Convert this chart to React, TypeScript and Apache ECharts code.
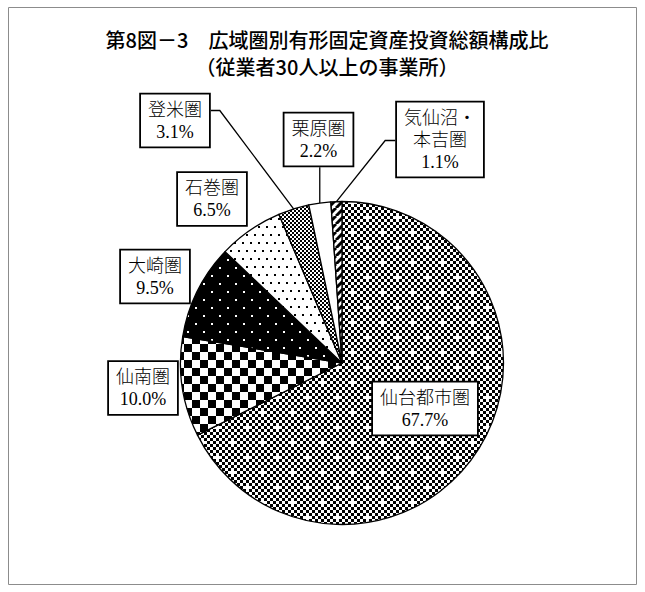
import React, { useEffect, useRef } from "react";
import * as echarts from "echarts";

// ---- data ----
const CATEGORIES = ["仙台都市圏", "仙南圏", "大崎圏", "石巻圏", "登米圏", "栗原圏", "気仙沼・本吉圏"];
const SHARES = [67.7, 10.0, 9.5, 6.5, 3.1, 2.2, 1.1];
const TITLE_LINES = ["第8図－3　広域圏別有形固定資産投資総額構成比", "（従業者30人以上の事業所）"];

// ---- layout / style (not data) ----
const PIE_CENTER = [342, 363];
const PIE_RADIUS = 161.5;
const TITLE_TOPS = [28, 55];
const LABEL_CENTERS = [
  [425, 408.5],
  [143, 388],
  [155, 276.5],
  [212, 199],
  [175, 120.5],
  [318.5, 139.5],
  [440, 139.5],
];
const LEADER = ["none", "none", "none", "none", "right", "bottom", "left"];
const PATTERNS = ["crossChecker", "bigChecker", "whiteDots", "blackDots", "fineChecker", "blank", "stripes"];

function makeTile(kind: string): HTMLCanvasElement {
  const c = document.createElement("canvas");
  let w = 8,
    h = 8;
  if (kind === "crossChecker") { w = 30; h = 30; }
  if (kind === "bigChecker") { w = 16; h = 16; }
  if (kind === "whiteDots") { w = 16; h = 16; }
  if (kind === "blackDots") { w = 16; h = 16; }
  if (kind === "fineChecker") { w = 4; h = 4; }
  c.width = w;
  c.height = h;
  const ctx = c.getContext("2d")!;
  ctx.fillStyle = "#fff";
  ctx.fillRect(0, 0, w, h);
  ctx.fillStyle = "#000";
  if (kind === "crossChecker") {
    const cell = 3;
    for (let i = 0; i < 10; i++)
      for (let j = 0; j < 10; j++) {
        if ((i + j) % 2 !== 0) continue;
        if ((i === 2 && j === 2) || (i === 7 && j === 7)) continue;
        ctx.fillRect(i * cell, j * cell, cell, cell);
      }
  } else if (kind === "bigChecker") {
    ctx.fillRect(0, 0, 8, 8);
    ctx.fillRect(8, 8, 8, 8);
  } else if (kind === "whiteDots") {
    ctx.fillRect(0, 0, w, h);
    ctx.fillStyle = "#fff";
    ctx.fillRect(3, 3, 2, 2);
    ctx.fillRect(11, 11, 2, 2);
  } else if (kind === "blackDots") {
    ctx.fillRect(2, 2, 2, 2);
    ctx.fillRect(10, 2, 2, 2);
    ctx.fillRect(6, 10, 2, 2);
    ctx.fillRect(14, 10, 2, 2);
  } else if (kind === "fineChecker") {
    ctx.fillRect(0, 0, 2, 2);
    ctx.fillRect(2, 2, 2, 2);
  } else if (kind === "stripes") {
    ctx.strokeStyle = "#000";
    ctx.lineWidth = 3;
    for (let k = -1; k <= 1; k++) {
      ctx.beginPath();
      ctx.moveTo(k * w, h);
      ctx.lineTo(k * w + w, 0);
      ctx.stroke();
    }
  }
  return c;
}

export default function App() {
  const ref = useRef<HTMLDivElement>(null);
  useEffect(() => {
    if (!ref.current) return;
    const chart = echarts.init(ref.current, null, { renderer: "svg" });
    const data = CATEGORIES.map((name, i) => ({
      name,
      value: SHARES[i],
      itemStyle: {
        color:
          PATTERNS[i] === "blank"
            ? "#fff"
            : ({ image: makeTile(PATTERNS[i]), repeat: "repeat" } as any),
      },
      labelLine: { show: LEADER[i] !== "none" },
    }));
    chart.setOption({
      animation: false,
      backgroundColor: "#fff",
      title: TITLE_LINES.map((t, i) => ({
        text: t,
        left: 327,
        top: TITLE_TOPS[i],
        padding: 0,
        textAlign: "center",
        textStyle: {
          fontFamily: "'Noto Sans CJK JP', sans-serif",
          fontSize: 20,
          fontWeight: 500,
          lineHeight: 22,
          color: "#000",
        },
      })),
      graphic: [
        {
          type: "rect",
          shape: { x: 8.5, y: 7.5, width: 628, height: 577 },
          style: { fill: "none", stroke: "#8c8c8c", lineWidth: 1 },
          silent: true,
        },
      ],
      series: [
        {
          type: "pie",
          center: PIE_CENTER,
          radius: PIE_RADIUS,
          startAngle: 90,
          clockwise: true,
          avoidLabelOverlap: false,
          data,
          itemStyle: { borderColor: "#000", borderWidth: 1.3 },
          emphasis: { disabled: true },
          label: {
            show: true,
            position: "outside",
            formatter: (p: any) =>
              `${String(p.name).replace("・", "・\n")}\n${Number(p.value).toFixed(1)}%`,
            fontFamily: "'Liberation Serif', 'Noto Sans CJK JP', serif",
            fontSize: 18,
            fontWeight: 300,
            lineHeight: 22,
            color: "#000",
            align: "center",
            backgroundColor: "#fff",
            borderColor: "#000",
            borderWidth: 1.8,
            padding: [4, 7, 4, 7],
          },
          labelLine: {
            show: true,
            length: 10,
            length2: 10,
            lineStyle: { color: "#000", width: 1.3 },
          },
          labelLayout: (p: any) => {
            const i = p.dataIndex;
            const [cx, cy] = LABEL_CENTERS[i];
            const w = p.labelRect.width;
            const h = p.labelRect.height;
            const res: any = {
              x: cx,
              y: cy,
              align: "center",
              verticalAlign: "middle",
              hideOverlap: false,
              moveOverlap: false,
            };
            const pts = p.labelLinePoints;
            if (pts && LEADER[i] !== "none") {
              const edge = pts[0];
              if (LEADER[i] === "right") {
                const y = cy - 10;
                const xr = cx + w / 2;
                res.labelLinePoints = [edge, [xr + 9, y], [xr, y]];
              } else if (LEADER[i] === "left") {
                const y = cy + 1;
                const xl = cx - w / 2;
                res.labelLinePoints = [edge, [xl - 10, y], [xl, y]];
              } else {
                const yb = cy + h / 2;
                res.labelLinePoints = [edge, [edge[0], (edge[1] + yb) / 2], [edge[0], yb]];
              }
            }
            return res;
          },
        },
      ],
    });
    return () => chart.dispose();
  }, []);
  return (
    <div
      ref={ref}
      style={{ position: "fixed", left: 0, top: 0, width: 645, height: 592 }}
    />
  );
}
